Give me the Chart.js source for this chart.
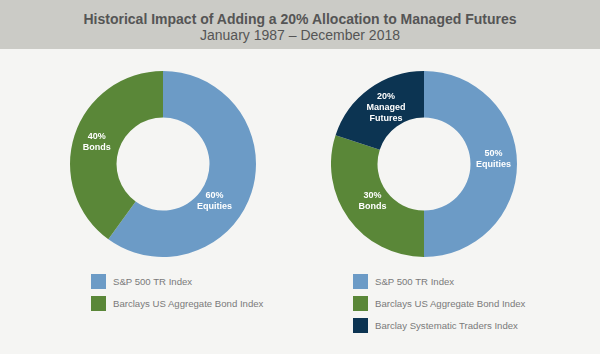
<!DOCTYPE html>
<html><head><meta charset="utf-8">
<script src="https://cdn.jsdelivr.net/npm/chart.js@4/dist/chart.umd.min.js"></script>
<style>
html,body{margin:0;padding:0;}
body{width:600px;height:354px;background:#f5f5f3;position:relative;overflow:hidden;font-family:"Liberation Sans",Arial,sans-serif;}
#hdr{position:absolute;left:0;top:0;width:600px;height:49px;background:#cbcbc6;text-align:center;color:#555;}
#t1{position:absolute;left:0;width:600px;top:11px;font-size:14px;font-weight:bold;}
#t2{position:absolute;left:0;width:600px;top:27px;font-size:14px;}
canvas{position:absolute;}
.leg{position:absolute;font-size:9.6px;color:#7a7a7a;}
.leg div{position:relative;height:22px;}
.leg span.sw{position:absolute;left:0;top:0;width:15px;height:15px;}
.leg span.tx{position:absolute;left:22px;top:2px;white-space:nowrap;}
</style></head><body>
<div id="hdr"><div id="t1">Historical Impact of Adding a 20% Allocation to Managed Futures</div><div id="t2">January 1987 – December 2018</div></div>
<canvas id="c1" width="186" height="186" style="left:70px;top:71px"></canvas>
<canvas id="c2" width="186" height="186" style="left:331px;top:71px"></canvas>
<div class="leg" id="l1" style="left:91px;top:274px"></div>
<div class="leg" id="l2" style="left:353px;top:274px"></div>
<script>
const categoriesA = ["Equities", "Bonds"];
const valuesA = [60, 40];
const legendA = ["S&P 500 TR Index", "Barclays US Aggregate Bond Index"];
const categoriesB = ["Equities", "Bonds", "Managed\nFutures"];
const valuesB = [50, 30, 20];
const legendB = ["S&P 500 TR Index", "Barclays US Aggregate Bond Index", "Barclay Systematic Traders Index"];
const colorsA = ["#6c9bc6", "#5a8738"];
const colorsB = ["#6c9bc6", "#5a8738", "#0c3452"];

const labelPlugin = {
  id: 'sliceLabels',
  afterDatasetsDraw(chart, args, opts) {
    const ctx = chart.ctx;
    const meta = chart.getDatasetMeta(0);
    const ds = chart.data.datasets[0];
    ctx.save();
    ctx.fillStyle = '#ffffff';
    ctx.font = 'bold 9px "Liberation Sans", Arial, sans-serif';
    ctx.textAlign = 'center';
    ctx.textBaseline = 'middle';
    meta.data.forEach((arc, i) => {
      const p = arc.getProps(['x','y','startAngle','endAngle','innerRadius','outerRadius'], true);
      const shift = (opts.angleShift && opts.angleShift[i]) || 0;
      const a = (p.startAngle + p.endAngle) / 2 + shift * Math.PI / 180;
      const r = (p.innerRadius + p.outerRadius) / 2 - ((opts.radiusShift && opts.radiusShift[i]) || 0);
      const cx = p.x + Math.cos(a) * r, cy = p.y + Math.sin(a) * r;
      const lines = [ds.data[i] + '%'].concat(chart.data.labels[i].split('\n'));
      const lh = 11;
      lines.forEach((ln, k) => {
        ctx.fillText(ln, cx, cy + (k - (lines.length - 1) / 2) * lh);
      });
    });
    ctx.restore();
  }
};

function makeChart(id, labels, values, colors, labelOpts) {
  return new Chart(document.getElementById(id), {
    type: 'doughnut',
    data: { labels: labels, datasets: [{ data: values, backgroundColor: colors, borderWidth: 0, hoverOffset: 0 }] },
    options: {
      responsive: false, animation: false, cutout: '50%',
      layout: { padding: 0 },
      plugins: { legend: { display: false }, tooltip: { enabled: false }, sliceLabels: labelOpts }
    },
    plugins: [labelPlugin]
  });
}
makeChart('c1', categoriesA, valuesA, colorsA, { angleShift: [18, 0], radiusShift: [6, 0] });
makeChart('c2', categoriesB, valuesB, colorsB, { angleShift: [-4, 0, 2], radiusShift: [0, 6, 2] });

function makeLegend(id, names, colors) {
  const el = document.getElementById(id);
  names.forEach((n, i) => {
    const row = document.createElement('div');
    const sw = document.createElement('span'); sw.className = 'sw'; sw.style.background = colors[i];
    const tx = document.createElement('span'); tx.className = 'tx'; tx.textContent = n;
    row.appendChild(sw); row.appendChild(tx); el.appendChild(row);
  });
}
makeLegend('l1', legendA, colorsA);
makeLegend('l2', legendB, colorsB);
</script>
</body></html>
